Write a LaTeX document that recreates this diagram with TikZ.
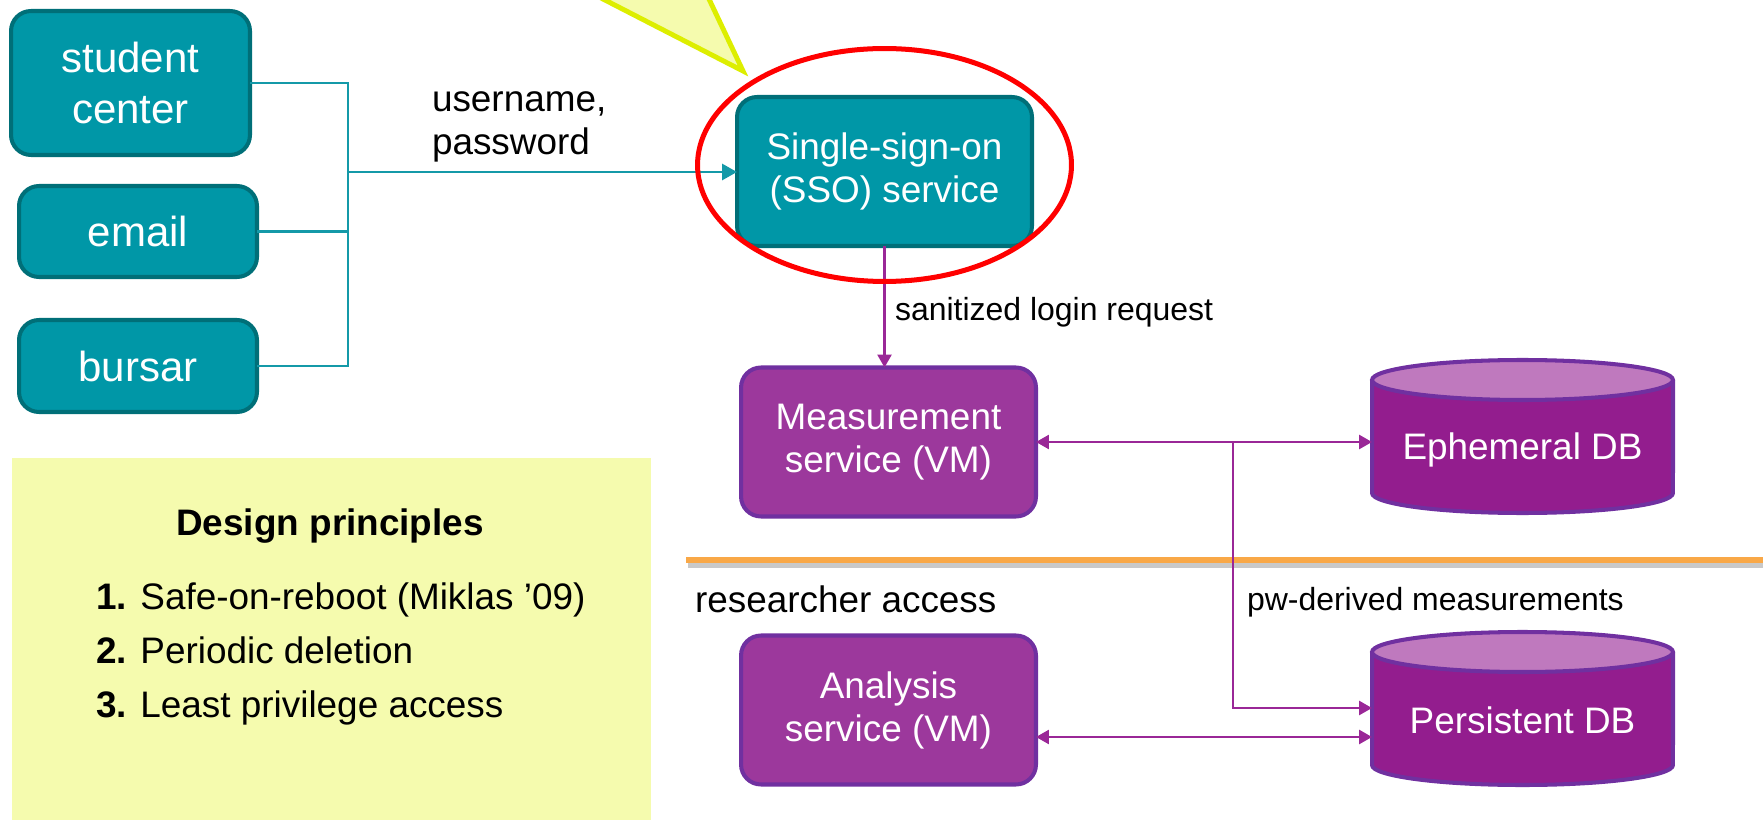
\documentclass[tikz,border=0pt]{standalone}
\usepackage{fontspec}
\setmainfont{Liberation Sans}
\usetikzlibrary{arrows.meta}

\definecolor{tealfill}{HTML}{0097A7}
\definecolor{tealedge}{HTML}{006F78}
\definecolor{tealline}{HTML}{1499A8}
\definecolor{purfill}{HTML}{9C389C}
\definecolor{puredge}{HTML}{7030A0}
\definecolor{dbbody}{HTML}{931D8E}
\definecolor{dbtop}{HTML}{BF79BE}
\definecolor{purline}{HTML}{9A2797}
\definecolor{notefill}{HTML}{F5FBAE}
\definecolor{calloutedge}{HTML}{DDEE00}
\definecolor{divider}{HTML}{F9A847}

% database cylinder centred at (#1,#2), coordinates in pixel units
\newcommand\dbcylinder[2]{%
  \fill[dbbody] (#1-150.5,#2-56.5) -- (#1-150.5,#2+56.5)
    arc[start angle=180,end angle=360,x radius=3.01cm,y radius=0.4cm]
    -- (#1+150.5,#2-56.5) -- cycle;
  \draw[puredge, line width=2.3pt] (#1-150.5,#2-56.5) -- (#1-150.5,#2+56.5)
    arc[start angle=180,end angle=360,x radius=3.01cm,y radius=0.4cm]
    -- (#1+150.5,#2-56.5);
  \draw[puredge, fill=dbtop, line width=2.3pt] (#1,#2-56.5)
    ellipse[x radius=3.01cm, y radius=0.4cm];
}

\begin{document}
\begin{tikzpicture}[x=0.02cm, y=-0.02cm,
  every node/.style={inner sep=0pt, outer sep=0pt},
  client/.style={draw=tealedge, fill=tealfill, line width=2.3pt,
    rounded corners=0.4cm, text=white, align=center,
    font=\fontsize{23.9pt}{29pt}\selectfont},
  service/.style={draw=tealedge, fill=tealfill, line width=2.3pt,
    rounded corners=0.4cm, text=white, align=center,
    font=\fontsize{21pt}{24.5pt}\selectfont,
    minimum width=5.9cm, minimum height=2.98cm},
  vm/.style={service, draw=puredge, fill=purfill},
  dblabel/.style={text=white, minimum width=6.02cm,
    font=\fontsize{21pt}{24.5pt}\selectfont},
  bigtext/.style={font=\fontsize{21pt}{24.5pt}\selectfont, align=left},
  smalltext/.style={font=\fontsize{18.2pt}{22pt}\selectfont},
  tline/.style={draw=tealline, line width=1.7pt},
  pline/.style={draw=purline, line width=1.5pt,
    >={Triangle[length=0.26cm,width=0.28cm]}},
]
\useasboundingbox (0,0) rectangle (1763,820);

% callout pointer coming down from above
\begin{scope}
  \clip (0,0) rectangle (1763,820);
  \draw[calloutedge, fill=notefill, line width=2.8pt, line join=miter]
    (566,-20) -- (743,71) -- (700,-20) -- cycle;
\end{scope}

% design principles panel
\fill[notefill] (12,458) rectangle (651,820);
\node[font=\bfseries\fontsize{21pt}{24.5pt}\selectfont, anchor=base]
  (ptitle) at (330,535) {Design principles};
% multi-line nodes: base anchor sits on the last line
\node[font=\fontsize{21pt}{30.7pt}\selectfont, align=left, anchor=base west]
  (plist) at (96,717)
  {\textbf{1.} Safe-on-reboot (Miklas ’09)\\
   \textbf{2.} Periodic deletion\\
   \textbf{3.} Least privilege access};

% trust boundary
\draw[black!30, line width=3pt, opacity=0.7] (688,565) -- (1763,565);
\draw[divider, line width=2.85pt] (686,560) -- (1763,560);

% clients
\node[client, minimum width=4.78cm, minimum height=2.88cm] (student) at (130.5,83) {student\\center};
\node[client, minimum width=4.76cm, minimum height=1.82cm] (email) at (138,231.5) {email};
\node[client, minimum width=4.76cm, minimum height=1.84cm] (bursar) at (138,366) {bursar};

% services
\node[service] (sso) at (884.5,171.5) {Single-sign-on\\(SSO) service};
\node[vm] (meas) at (888.5,442) {Measurement\\service (VM)};
\node[vm] (ana) at (888.5,710) {Analysis\\service (VM)};

% databases
\dbcylinder{1522.5}{436.5}
\node[dblabel] (eph) at (1522.5,450) {Ephemeral DB};
\dbcylinder{1522.5}{708.5}
\node[dblabel] (pdb) at (1522.5,720) {Persistent DB};

% labels
\node[bigtext, anchor=base west] (cred) at (432,155) {username,\\password};
\node[smalltext, anchor=base west] (sanlabel) at (895,321) {sanitized login request};
\node[bigtext, anchor=base west] (racc) at (695,612) {researcher access};
\node[smalltext, anchor=base west] (pwlabel) at (1247,610) {pw-derived measurements};

% login path
\coordinate (bus) at (348,172);
\draw[tline] (student.east) -| (bus);
\draw[tline] (email.east) -| (bus);
\draw[tline] (bursar.east) -| (bus);
\draw[tline, -{Triangle[length=0.3cm,width=0.32cm]}] (bus) -- (bus -| sso.west);
\draw[pline, ->] (sso.south) -- (sso.south |- meas.north);

% data paths
\coordinate (split) at (1233,0);
\draw[pline, <->] (meas.east) -- (meas.east -| eph.west);
\draw[pline, ->] (meas.east -| split) |- ([yshift=0.24cm]pdb.west);
\draw[pline, <->] ([yshift=-0.54cm]ana.east) -- ([yshift=-0.54cm]ana.east -| pdb.west);

% highlight ring
\draw[red, line width=2.85pt] (884.5,165) ellipse[x radius=3.74cm, y radius=2.33cm];
\end{tikzpicture}
\end{document}
